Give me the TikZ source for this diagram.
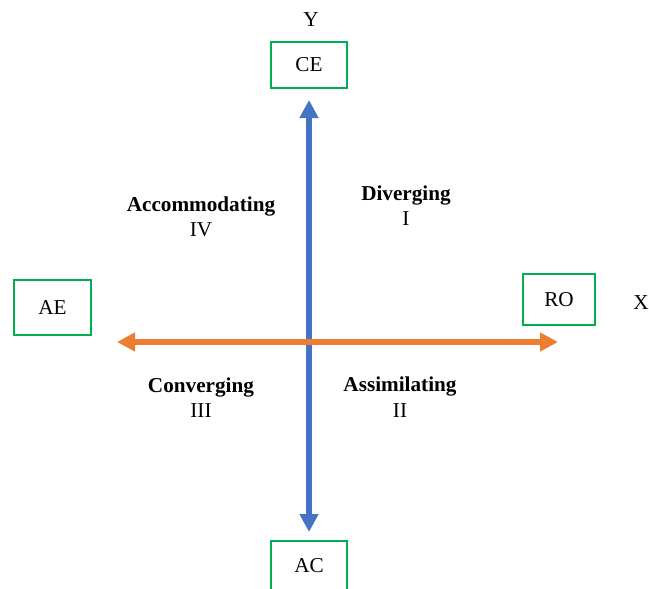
\documentclass[tikz,border=0pt]{standalone}
\usepackage{fontspec}
\setmainfont{Liberation Serif}
\usetikzlibrary{arrows.meta, positioning}

\begin{document}
\begin{tikzpicture}[
    x=0.5pt, y=-0.5pt,
    every node/.style={font=\fontsize{10.6}{12.5}\selectfont},
]

% ---------------------------------------------------------------- colours
\definecolor{boxgreen}{HTML}{00B050}   % the four poles
\definecolor{yaxis}{HTML}{4472C4}      % perceiving
\definecolor{xaxis}{HTML}{ED7D31}      % processing

\tikzset{
    pole/.style={rectangle, draw=boxgreen, line width=1.4pt, fill=white,
                 inner sep=0pt},
    axislab/.style={inner sep=0pt},
    style name/.style={font=\fontsize{10.6}{12.5}\selectfont\bfseries,
                       inner sep=0pt},
    quad/.style={inner sep=0pt},
    axisline/.style={line width=2.7pt,
                     {Triangle[length=9pt, width=9pt]}-{Triangle[length=9pt, width=9pt]}},
}

% ================================================================
% Pixel grid of the reference, 649 x 589, y running down
% ================================================================
\useasboundingbox (0,0) rectangle (649,589);

% ---------------------------------------------------------------- poles
\node[pole, minimum width=38pt, minimum height=23pt] (ce) at (309,65) {CE};
\node[pole, minimum width=38pt, minimum height=25pt] (ac) at (309,566) {AC};
\node[pole, minimum width=38.5pt, minimum height=27.5pt] (ae) at (52.5,307.5) {AE};
\node[pole, minimum width=36pt, minimum height=25.5pt] (ro) at (559,299.5) {RO};

\node[axislab] (ylab) at (311,20) {Y};
\node[axislab] (xlab) at (641,303) {X};

% ---------------------------------------------------------------- axes
\coordinate (ytop) at (309,100);
\coordinate (ybot) at (309,532);
\coordinate (xleft) at (117,342);
\coordinate (xright) at (558,342);

\draw[axisline, yaxis] (ybot) -- (ytop);
\draw[axisline, xaxis] (xleft) -- (xright);

% ---------------------------------------------------------------- quadrants
\node[style name] (accom) at (201,206) {Accommodating};
\node[quad] (q4) at (201,230) {IV};

\node[style name] (diverg) at (406,195) {Diverging};
\node[quad] (q1) at (406,219) {I};

\node[style name] (conv) at (201,387) {Converging};
\node[quad] (q3) at (201,411) {III};

\node[style name] (assim) at (400,386) {Assimilating};
\node[quad] (q2) at (400,411) {II};

\end{tikzpicture}
\end{document}
